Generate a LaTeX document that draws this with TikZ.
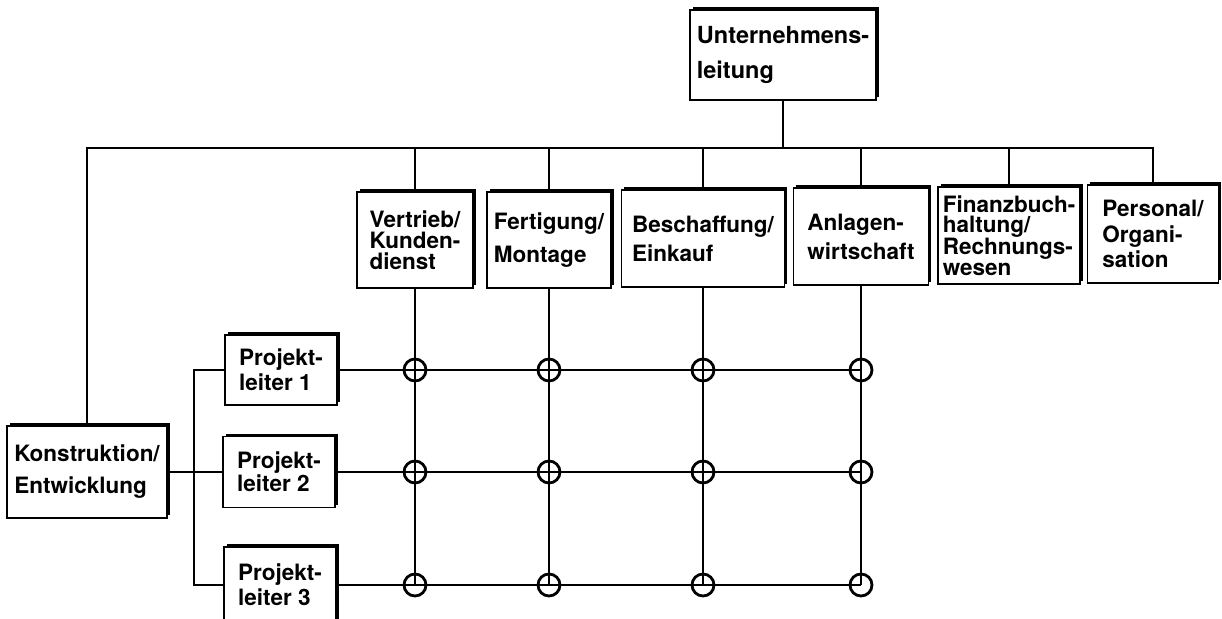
\documentclass[tikz,border=0pt]{standalone}
\usepackage{fontspec}
\setmainfont{TeX Gyre Heros}
\usetikzlibrary{shadows}
\begin{document}
\begin{tikzpicture}[x=1pt, y=-1pt, line width=2.7pt,
  unit/.style={draw, fill=white, line width=1.8pt, inner sep=0pt, align=left,
    font=\bfseries\fontsize{22.5}{#1}\selectfont,
    general shadow={fill=black, shadow xshift=2.6pt, shadow yshift=2.6pt}},
  junc/.style={circle, draw, line width=2.8pt, minimum size=22pt, inner sep=0pt}]
\useasboundingbox (0,0) rectangle (1222,618);

% management and departments
\node[unit=35, font=\bfseries\fontsize{23.5}{35}\selectfont,
      minimum width=186pt, minimum height=90pt] (ul) at (783,55) {Unternehmens-\\leitung};
\node[unit=21,   minimum width=116pt, minimum height=96pt] (vk) at (415,240)   {Vertrieb/\\Kunden-\\dienst};
\node[unit=33,   minimum width=124pt, minimum height=96pt] (fm) at (549,240)   {Fertigung/\\Montage};
\node[unit=29,   minimum width=163pt, minimum height=97pt] (be) at (703,238.5) {Beschaffung/\\Einkauf};
\node[unit=29,   minimum width=135pt, minimum height=97pt] (an) at (861,236.5) {Anlagen-\\wirtschaft};
\node[unit=20.5, minimum width=142pt, minimum height=97pt] (fi) at (1009,235.5) {Finanzbuch-\\haltung/\\Rechnungs-\\wesen};
\node[unit=25.5, minimum width=131pt, minimum height=98pt] (pe) at (1153,234)  {Personal/\\Organi-\\sation};

% engineering and project leads
\node[unit=32, minimum width=160pt, minimum height=92pt] (kon) at (87,472) {Konstruktion/\\Entwicklung};
\node[unit=25, minimum width=112pt, minimum height=70pt] (pl1) at (281,370) {Projekt-\\leiter 1};
\node[unit=23, minimum width=112pt, minimum height=71pt] (pl2) at (279,472) {Projekt-\\leiter 2};
\node[unit=25, minimum width=112pt, minimum height=76pt] (pl3) at (280,585) {Projekt-\\leiter 3};

% distribution line below the management
\coordinate (bus) at (0,148);
\draw (ul.south) -- (ul.south |- bus);
\draw (kon.north) -- (kon.north |- bus) -- (pe.north |- bus) -- (pe.north);
\foreach \d in {vk, fm, be, an, fi}
  \draw (\d.north) -- (\d.north |- bus);

% bracket to the project leads
\coordinate (br) at (194,472);
\draw (kon.east) -- (br);
\draw (pl1.west) -| (br |- pl3.west) -- (pl3.west);
\draw (br) -- (pl2.west);

% matrix junctions
\foreach \d [count=\j] in {vk, fm, be, an}
  \foreach \p [count=\i] in {pl1, pl2, pl3}
    \node[junc] (c\i\j) at (\d.south |- \p.east) {};

\foreach \d [count=\j] in {vk, fm, be, an}
  \draw (\d.south) -- (c3\j.center);
\foreach \p [count=\i] in {pl1, pl2, pl3}
  \draw (\p.east) -- (c\i4.center);
\end{tikzpicture}
\end{document}
